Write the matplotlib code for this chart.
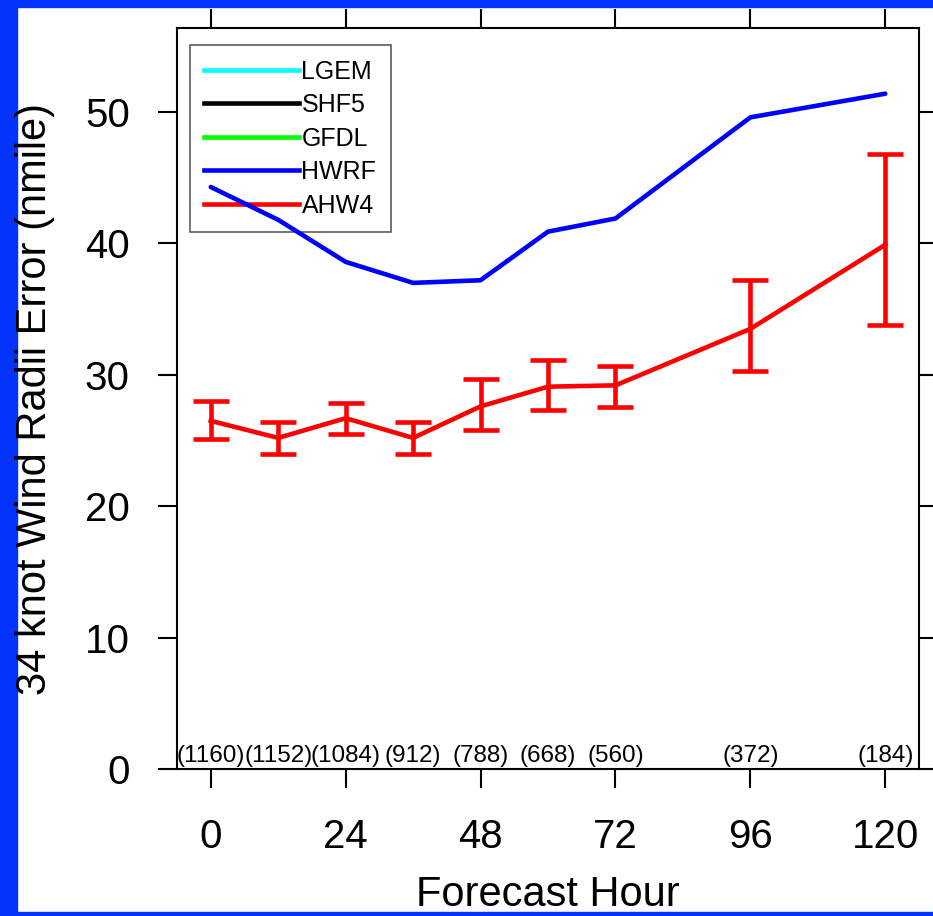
import matplotlib
matplotlib.use("Agg")
import matplotlib.pyplot as plt
from matplotlib.patches import Rectangle
from matplotlib.lines import Line2D

plt.rcParams['font.family'] = ['Liberation Sans', 'DejaVu Sans']

# ---- data ----
hours = [0, 12, 24, 36, 48, 60, 72, 96, 120]
hwrf = [44.3, 41.8, 38.6, 37.0, 37.2, 40.9, 41.9, 49.6, 51.4]
ahw4 = [26.5, 25.2, 26.7, 25.2, 27.6, 29.1, 29.2, 33.5, 39.9]
ahw4_low = [25.1, 24.0, 25.5, 24.0, 25.8, 27.3, 27.55, 30.3, 33.8]
ahw4_high = [28.0, 26.4, 27.85, 26.4, 29.7, 31.15, 30.7, 37.2, 46.8]
counts = ["(1160)", "(1152)", "(1084)", "(912)", "(788)", "(668)", "(560)", "(372)", "(184)"]
xticks = [0, 24, 48, 72, 96, 120]
yticks = [0, 10, 20, 30, 40, 50]
legend_models = ["LGEM", "SHF5", "GFDL", "HWRF", "AHW4"]
legend_colors = ["#00ffff", "#000000", "#00ff00", "#0000ff", "#ff0000"]

fig = plt.figure(figsize=(9.33, 9.16), dpi=100, facecolor='white')
ax = fig.add_axes([177/933, 1-769/916, (919-177)/933, (769-28)/916])

# blue frame around the panel
blue = '#0433ff'
fig.patches.append(Rectangle((0, 0), 17/933, 1, transform=fig.transFigure, color=blue, zorder=-1))
fig.patches.append(Rectangle((0, 1-7/916), 1, 7/916, transform=fig.transFigure, color=blue, zorder=-1))
fig.patches.append(Rectangle((0, 0), 1, 4/916, transform=fig.transFigure, color=blue, zorder=-1))

lw = 3.3
ax.plot(hours, hwrf, color=legend_colors[3], lw=lw, label=legend_models[3],
        solid_joinstyle='round', solid_capstyle='round')
yerr = [[m - l for m, l in zip(ahw4, ahw4_low)], [h - m for m, h in zip(ahw4, ahw4_high)]]
ax.errorbar(hours, ahw4, yerr=yerr, color=legend_colors[4], lw=lw, elinewidth=lw,
            capsize=13, capthick=lw, label=legend_models[4])

for h, c in zip(hours, counts):
    ax.text(h, 0.15, c, ha='center', va='bottom', fontsize=17.5)

ax.set_xlim(-6, 126)
ax.set_ylim(0, 56.4)
ax.set_xticks(xticks)
ax.set_yticks(yticks)
ax.tick_params(axis='both', which='both', direction='out', length=14, width=1.5,
               labelsize=29, top=True, right=True)
ax.tick_params(axis='x', pad=21)
ax.tick_params(axis='y', pad=20)
for s in ax.spines.values():
    s.set_linewidth(1.5)

ax.set_xlabel("Forecast Hour", fontsize=30, labelpad=14)
ax.set_ylabel("34 knot Wind Radii Error (nmile)", fontsize=30)
ax.yaxis.set_label_coords(-0.164, 0.5)

handles = [Line2D([], [], color=c, lw=lw) for c in legend_colors]
leg = ax.legend(handles, legend_models, loc='upper left', bbox_to_anchor=(0.0175, 0.977),
                fontsize=18, frameon=True, fancybox=False, handlelength=3.8,
                handletextpad=0.08, labelspacing=0.38, borderpad=0.58, borderaxespad=0)
leg.get_frame().set_facecolor('none')
leg.get_frame().set_edgecolor('#333333')
leg.get_frame().set_linewidth(1.2)
leg.set_zorder(1)

fig.savefig("out.png", dpi=100)
